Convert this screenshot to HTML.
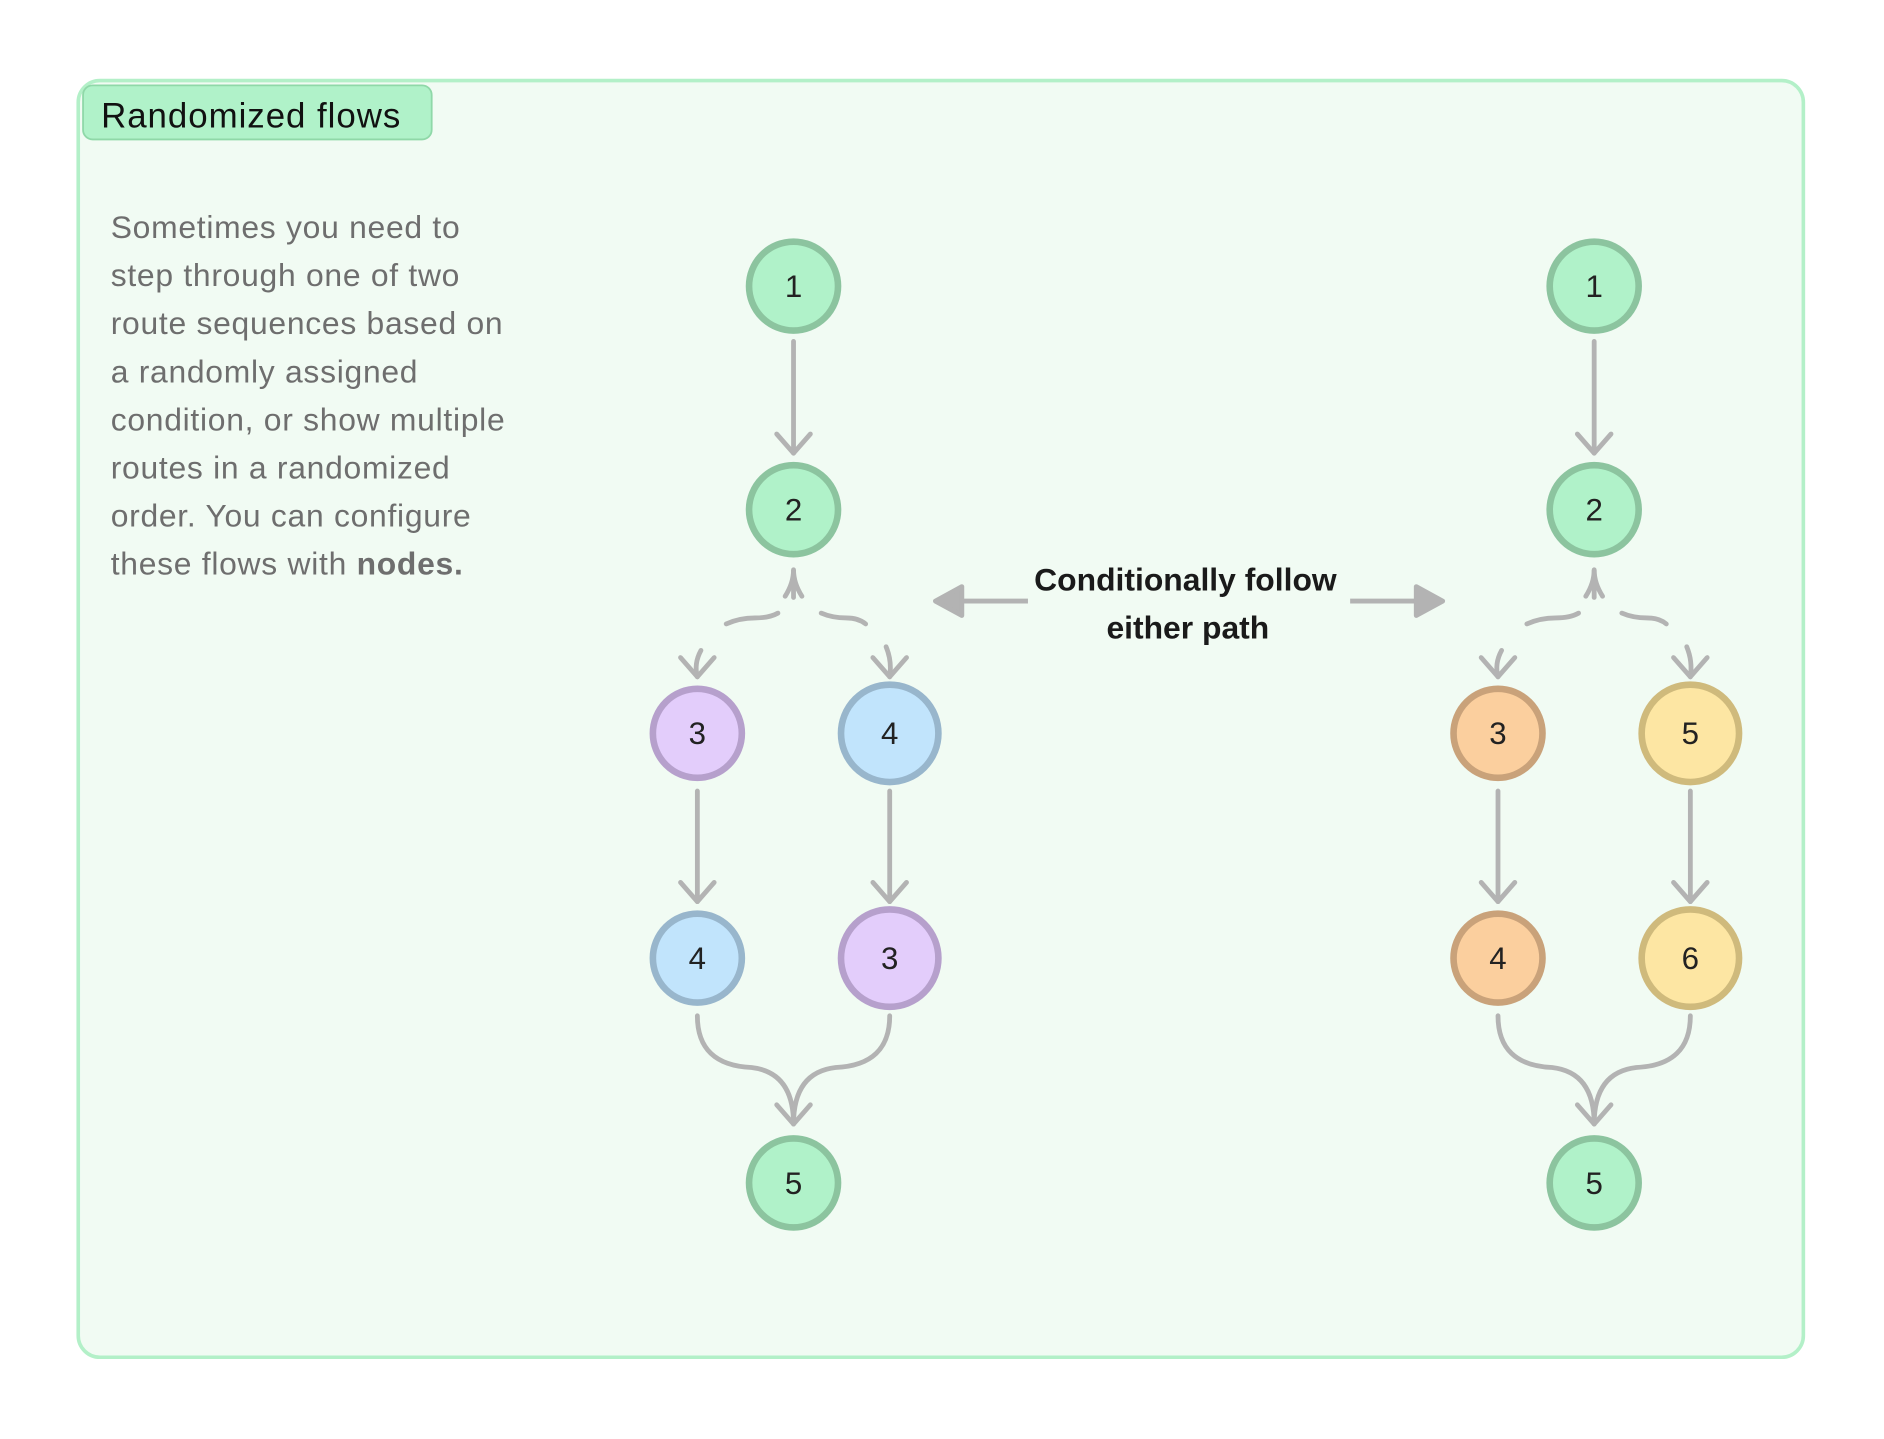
<!DOCTYPE html>
<html><head><meta charset="utf-8"><style>
html,body{margin:0;padding:0;background:#fff;}
svg{display:block}
text{font-family:"Liberation Sans",sans-serif;}
</style></head><body>
<svg width="1884" height="1439" viewBox="0 0 1567 1197" xmlns="http://www.w3.org/2000/svg">
<defs>
<g id="vh"><path d="M-14,-16 L0,0 L14,-16" fill="none" stroke="#b3b3b3" stroke-width="4" stroke-linecap="round" stroke-linejoin="round"/></g>
</defs>
<rect x="65" y="67" width="1435" height="1062" rx="18" fill="#f1fbf3" stroke="#b3f0c8" stroke-width="3"/>
<rect x="69" y="71" width="290" height="45" rx="8" fill="#b0f2c9" stroke="#8fd8a8" stroke-width="1.5"/>
<text x="84" y="106" font-size="29" letter-spacing="0.8" fill="#111">Randomized flows</text>
<g font-size="26.5" letter-spacing="0.6" fill="#6e6e6e">
<text x="92" y="198">Sometimes you need to</text>
<text x="92" y="238">step through one of two</text>
<text x="92" y="278">route sequences based on</text>
<text x="92" y="318">a randomly assigned</text>
<text x="92" y="358">condition, or show multiple</text>
<text x="92" y="398">routes in a randomized</text>
<text x="92" y="438">order. You can configure</text>
<text x="92" y="478">these flows with <tspan font-weight="bold">nodes.</tspan></text>
</g>
<g font-size="26.5" font-weight="bold" fill="#1a1a1a" text-anchor="middle">
<text x="986" y="491">Conditionally follow</text>
<text x="988" y="531">either path</text>
</g>
<g stroke="#b3b3b3" stroke-width="4" fill="#b3b3b3">
<line x1="855" y1="500" x2="795" y2="500"/>
<path d="M778,500 L800,488 L800,512 Z" stroke-linejoin="round"/>
<line x1="1123" y1="500" x2="1183" y2="500"/>
<path d="M1200,500 L1178,488 L1178,512 Z" stroke-linejoin="round"/>
</g>
<g id="flow" fill="none" stroke="#b3b3b3" stroke-width="4" stroke-linecap="round">
<line x1="660" y1="284" x2="660" y2="377"/>
<use href="#vh" x="660" y="377"/>
<line x1="660" y1="497" x2="660" y2="474"/>
<path d="M653,496 Q660,485 660,474 Q660,485 667,496"/>
<path d="M604,519 Q615,514 628,514 Q640,514 647,510"/>
<path d="M683,510 Q692,514 704,514 Q714,514 720,519"/>
<path d="M583,541 Q577,552 580,563"/>
<use href="#vh" x="580" y="563"/>
<path d="M737,538 Q742,550 740,563"/>
<use href="#vh" x="740" y="563"/>
<line x1="580" y1="658" x2="580" y2="750"/>
<use href="#vh" x="580" y="750"/>
<line x1="740" y1="658" x2="740" y2="750"/>
<use href="#vh" x="740" y="750"/>
<path d="M580,845 Q580,886 625,888 Q660,892 660,935"/>
<path d="M740,845 Q740,886 695,888 Q660,892 660,935"/>
<use href="#vh" x="660" y="935"/>
</g>
<use href="#flow" x="666" y="0"/>
<g stroke-width="5.5">
<circle cx="660" cy="238" r="37" fill="#b0f2c9" stroke="#8cc49f"/>
<circle cx="660" cy="424" r="37" fill="#b0f2c9" stroke="#8cc49f"/>
<circle cx="580" cy="610" r="37" fill="#e3cdfb" stroke="#b6a0cc"/>
<circle cx="740" cy="610" r="40.5" fill="#c1e4fc" stroke="#98b6cc"/>
<circle cx="580" cy="797" r="37" fill="#c1e4fc" stroke="#98b6cc"/>
<circle cx="740" cy="797" r="40.5" fill="#e3cdfb" stroke="#b6a0cc"/>
<circle cx="660" cy="984" r="37" fill="#b0f2c9" stroke="#8cc49f"/>
<circle cx="1326" cy="238" r="37" fill="#b0f2c9" stroke="#8cc49f"/>
<circle cx="1326" cy="424" r="37" fill="#b0f2c9" stroke="#8cc49f"/>
<circle cx="1246" cy="610" r="37" fill="#fbcf9e" stroke="#c9a27a"/>
<circle cx="1406" cy="610" r="40.5" fill="#fde6a3" stroke="#cfba7c"/>
<circle cx="1246" cy="797" r="37" fill="#fbcf9e" stroke="#c9a27a"/>
<circle cx="1406" cy="797" r="40.5" fill="#fde6a3" stroke="#cfba7c"/>
<circle cx="1326" cy="984" r="37" fill="#b0f2c9" stroke="#8cc49f"/>
</g>
<g font-size="26" text-anchor="middle" fill="#222">
<text x="660" y="247">1</text><text x="660" y="433">2</text>
<text x="580" y="619">3</text><text x="740" y="619">4</text>
<text x="580" y="806">4</text><text x="740" y="806">3</text>
<text x="660" y="993">5</text>
<text x="1326" y="247">1</text><text x="1326" y="433">2</text>
<text x="1246" y="619">3</text><text x="1406" y="619">5</text>
<text x="1246" y="806">4</text><text x="1406" y="806">6</text>
<text x="1326" y="993">5</text>
</g>
</svg>
</body></html>
